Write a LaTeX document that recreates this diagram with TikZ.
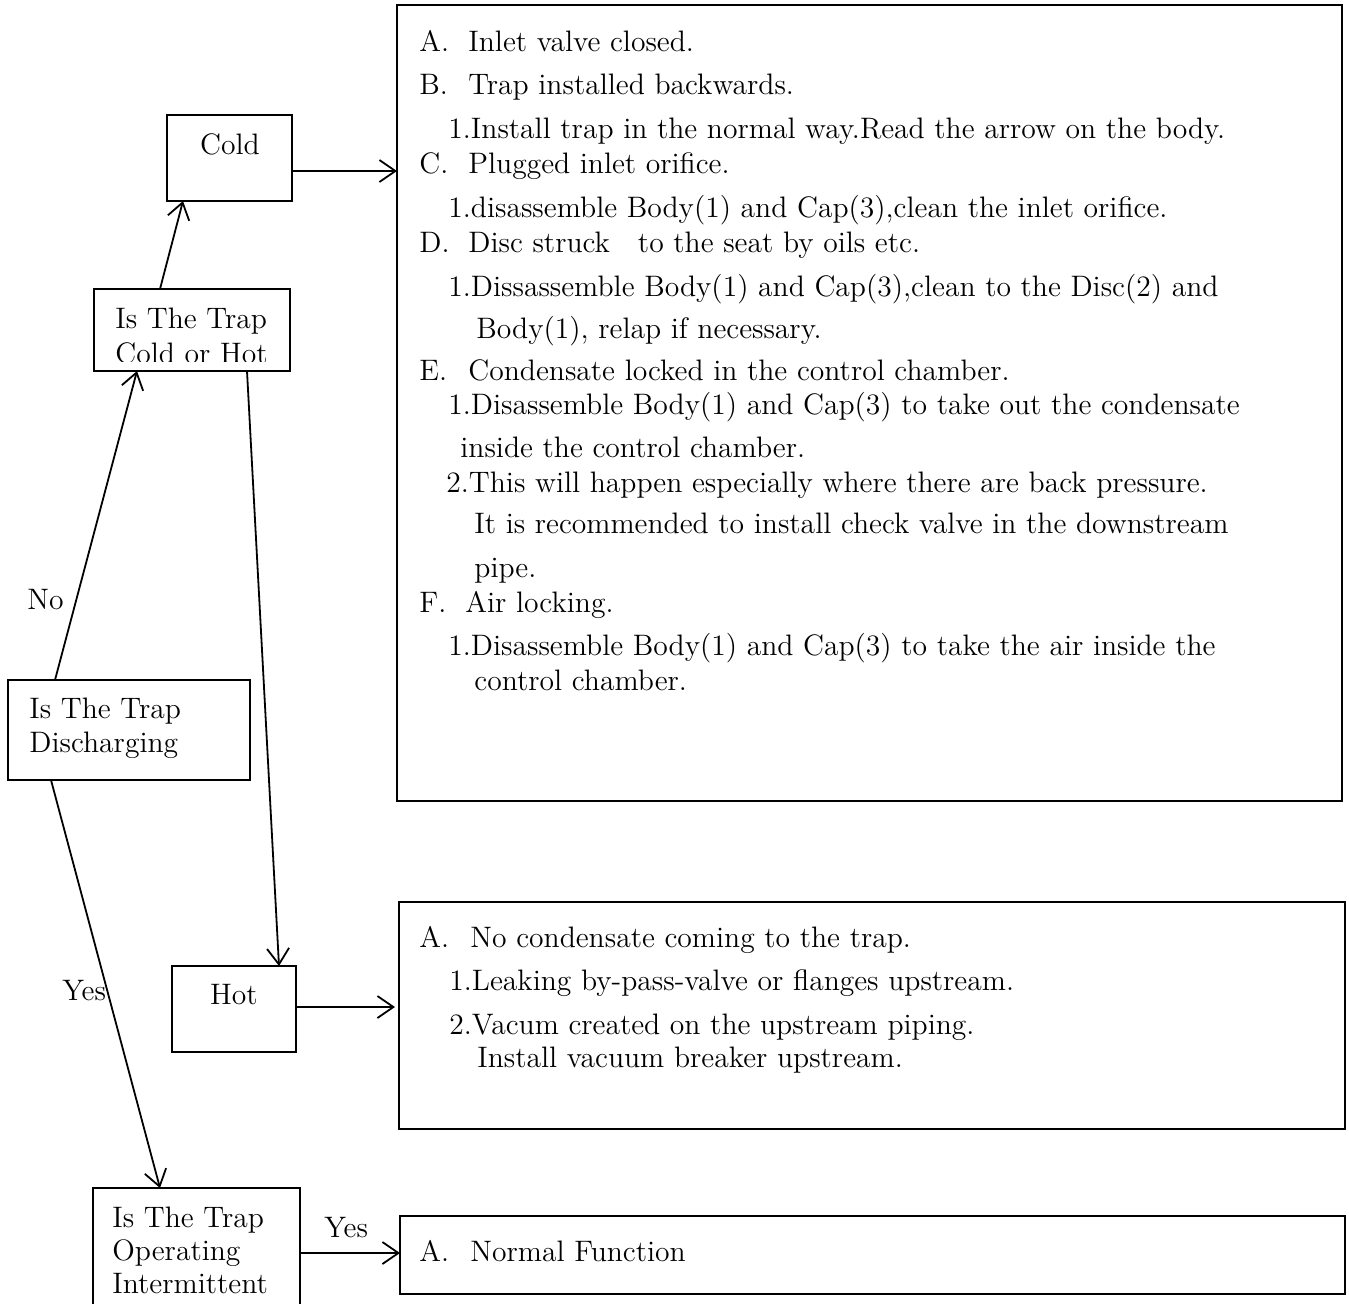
\documentclass[tikz,border=0pt]{standalone}
\usetikzlibrary{arrows.meta,calc,fit}
\begin{document}
\begin{tikzpicture}[x=0.5pt,y=-0.5pt,
  box/.style={draw,line width=1.2pt,inner sep=0pt,outer sep=0pt},
  arr/.style={line width=0.9pt,-{Straight Barb[length=8pt,width=11pt,line width=0.9pt]}},
  txt/.style={anchor=base west,inner sep=0pt,font=\fontsize{14.8}{17}\selectfont},
  ctxt/.style={anchor=base,inner sep=0pt,font=\fontsize{14.8}{17}\selectfont}]
\clip (0,0) rectangle (1349,1303);
\fill[white] (0,0) rectangle (1349,1303);
% boxes
\node[box,fit={(167,115) (292,201)}] (cold) {};
\node[box,fit={(94,289) (290,371)}] (ch) {};
\node[box,fit={(8,680) (250,780)}] (dis) {};
\node[box,fit={(172,966) (296,1052)}] (hot) {};
\node[box,fit={(93,1188) (300,1340)}] (op) {};
\node[box,fit={(397,5) (1342,801)}] (main) {};
\node[box,fit={(399,902) (1345,1129)}] (hotres) {};
\node[box,fit={(400,1216) (1345,1294)}] (norm) {};
% box texts
\node[ctxt] (coldt) at (230,154) {Cold};
\begin{scope}
\clip (94,289) rectangle (290,361);
\node[txt] (cht1) at (115,328) {Is The Trap};
\node[txt] (cht2) at (115,363) {Cold or Hot};
\end{scope}
\node[txt] (dist1) at (29,718) {Is The Trap};
\node[txt] (dist2) at (29,752) {Discharging};
\node[ctxt] (hott) at (234,1004) {Hot};
\node[txt] (opt1) at (112,1227) {Is The Trap};
\node[txt] (opt2) at (112,1260) {Operating};
\node[txt] (opt3) at (112,1293) {Intermittent};
% main text
\node[txt] (mA) at (419,51) {A.};
\node[txt] (mA1) at (468,51) {Inlet valve closed.};
\node[txt] (mB) at (419,94) {B.};
\node[txt] (mB1) at (468,94) {Trap installed backwards.};
\node[txt] (mB2) at (448,138) {1.Install trap in the normal way.Read the arrow on the body.};
\node[txt] (mC) at (419,173) {C.};
\node[txt] (mC1) at (468,173) {Plugged inlet orifice.};
\node[txt] (mC2) at (448,217) {1.disassemble Body(1) and Cap(3),clean the inlet orifice.};
\node[txt] (mD) at (419,252) {D.};
\node[txt] (mD1) at (468,252) {Disc struck\hspace{14pt}to the seat by oils etc.};
\node[txt] (mD2) at (448,296) {1.Dissassemble Body(1) and Cap(3),clean to the Disc(2) and};
\node[txt] (mD3) at (476,338) {Body(1), relap if necessary.};
\node[txt] (mE) at (419,380) {E.};
\node[txt] (mE1) at (468,380) {Condensate locked in the control chamber.};
\node[txt] (mE2) at (448,414) {1.Disassemble Body(1) and Cap(3) to take out the condensate};
\node[txt] (mE3) at (460,457) {inside the control chamber.};
\node[txt] (mE4) at (446,492) {2.This will happen especially where there are back pressure.};
\node[txt] (mE5) at (474,533) {It is recommended to install check valve in the downstream};
\node[txt] (mE6) at (474,577) {pipe.};
\node[txt] (mF) at (419,612) {F.};
\node[txt] (mF1) at (465,612) {Air locking.};
\node[txt] (mF2) at (448,655) {1.Disassemble Body(1) and Cap(3) to take the air inside the};
\node[txt] (mF3) at (474,690) {control chamber.};
% hot result text
\node[txt] (hA) at (419,947) {A.};
\node[txt] (hA1) at (470,947) {No condensate coming to the trap.};
\node[txt] (hA2) at (449,990) {1.Leaking by-pass-valve or flanges upstream.};
\node[txt] (hA3) at (449,1034) {2.Vacum created on the upstream piping.};
\node[txt] (hA4) at (477,1067) {Install vacuum breaker upstream.};
% normal text
\node[txt] (nA) at (419,1261) {A.};
\node[txt] (nA1) at (470,1261) {Normal Function};
% connectors
\draw[arr] ($(dis.north west)+(47,0)$) -- ($(ch.south west)+(43,0)$);
\draw[arr] ($(ch.north west)+(66,0)$) -- ($(cold.south west)+(16,0)$);
\draw[arr] ($(cold.south east)+(0,-30)$) -- ($(main.north west)+(0,166)$);
\draw[arr] ($(ch.south west)+(153,0)$) -- ($(hot.north west)+(107,0)$);
\draw[arr] ($(hot.north east)+(0,41)$) -- ($(hotres.north west)+(-4,105)$);
\draw[arr] ($(dis.south west)+(43,0)$) -- ($(op.north west)+(67,0)$);
\draw[arr] ($(op.north east)+(0,65)$) -- ($(norm.north west)+(0,37)$);
% labels
\node[txt] (no) at (27,609) {No};
\node[txt] (yes1) at (62,1000) {Yes};
\node[txt] (yes2) at (324,1237) {Yes};
\end{tikzpicture}
\end{document}
